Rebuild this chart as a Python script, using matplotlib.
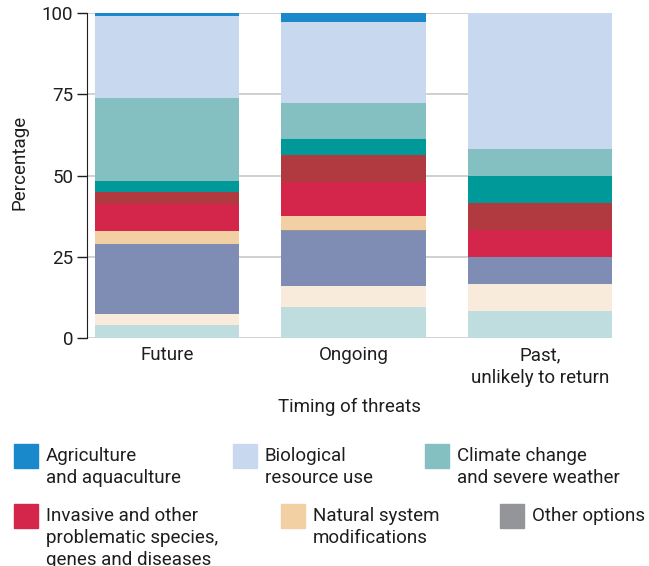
import matplotlib.pyplot as plt
from matplotlib.patches import Rectangle

plt.rcParams['font.family'] = ['Roboto', 'DejaVu Sans']

# Timing categories (x axis)
timings = ['Future', 'Ongoing', 'Past,\nunlikely to return']

# Threat categories, bottom of stack first
threats = [
    'Transportation and service corridors',
    'Residential and commercial development',
    'Pollution',
    'Other options',
    'Natural system modifications',
    'Invasive and other problematic species, genes and diseases',
    'Human intrusions and disturbance',
    'Energy production and mining',
    'Climate change and severe weather',
    'Biological resource use',
    'Agriculture and aquaculture',
]

# Percentages per threat, in the order of timings
transportation = [3.9, 9.5, 8.3]
residential = [3.4, 6.5, 8.3]
pollution = [21.6, 16.8, 8.3]
other = [0.0, 0.5, 0.0]
natural = [4.0, 4.3, 0.0]
invasive = [8.5, 10.3, 8.3]
human = [3.5, 8.4, 8.3]
energy = [3.4, 5.0, 8.3]
climate = [25.7, 11.1, 8.4]
biological = [25.3, 25.0, 41.8]
agriculture = [0.7, 2.6, 0.0]

series = [transportation, residential, pollution, other, natural, invasive,
          human, energy, climate, biological, agriculture]
colors = ['#bfdcde', '#f9ebdc', '#7f8cb4', '#939598', '#f2d0a4', '#d4264a',
          '#b03a40', '#009999', '#84c0c2', '#c8d8ee', '#1a89cc']

FS = 13.5
TXT = '#1e1e1e'

fig = plt.figure(figsize=(6.49, 5.66), dpi=100)
ax = fig.add_axes([87 / 649, 1 - 338 / 566, (612 - 87) / 649, (338 - 13.3) / 566])

x = range(len(timings))
bottom = [0.0] * len(timings)
for vals, col in zip(series, colors):
    ax.bar(x, vals, bottom=bottom, width=0.775, color=col, zorder=2)
    bottom = [b + v for b, v in zip(bottom, vals)]

ax.set_xlim(-0.43, 2.3875)
ax.set_ylim(0, 100)
ax.set_yticks([0, 25, 50, 75, 100])
ax.set_xticks(list(x))
ax.set_xticklabels(timings, fontsize=FS, color=TXT, linespacing=1.3)
ax.tick_params(axis='y', labelsize=FS, length=7, width=1, colors=TXT, pad=3)
ax.tick_params(axis='x', length=0, pad=6)
ax.yaxis.grid(True, color='#c8c8c8', linewidth=1.2, zorder=0)
ax.set_axisbelow(True)
for s in ['top', 'right', 'bottom']:
    ax.spines[s].set_visible(False)
ax.spines['left'].set_color(TXT)
ax.set_ylabel('Percentage', fontsize=FS, color=TXT)
ax.yaxis.set_label_coords(-0.112, 0.54)
ax.set_xlabel('Timing of threats', fontsize=FS, color=TXT, labelpad=8)

# Legend (only the part visible in the original crop)
legend_items = [
    ('Agriculture\nand aquaculture', '#1a89cc', 14, 444),
    ('Biological\nresource use', '#c8d8ee', 233, 444),
    ('Climate change\nand severe weather', '#84c0c2', 425, 444),
    ('Invasive and other\nproblematic species,\ngenes and diseases', '#d4264a', 14, 504),
    ('Natural system\nmodifications', '#f2d0a4', 281, 504),
    ('Other options', '#939598', 500, 504),
]
W, H = 649.0, 566.0
for label, col, px, py in legend_items:
    fig.add_artist(Rectangle((px / W, 1 - (py + 24) / H), 24 / W, 24 / H,
                             transform=fig.transFigure, color=col))
    fig.text((px + 32) / W, 1 - (py + 3) / H, label, fontsize=FS,
             color=TXT, va='top', ha='left', linespacing=1.3)

fig.savefig('out.png', dpi=100)
